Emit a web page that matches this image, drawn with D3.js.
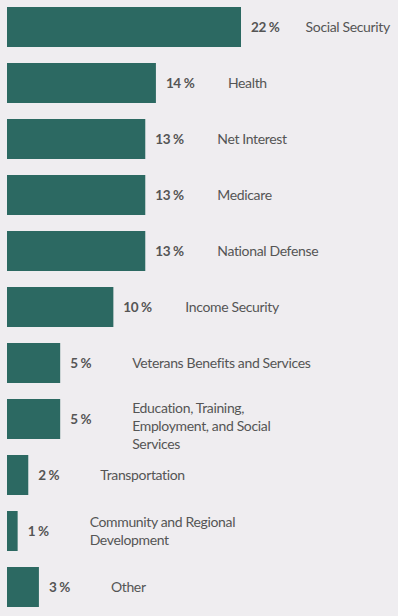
<!DOCTYPE html>
<html>
<head>
<meta charset="utf-8">
<script src="https://cdn.jsdelivr.net/npm/d3@7"></script>
<style>
  html, body { margin: 0; padding: 0; background: #efedf0; }
  svg { display: block; }
  .pct { font-family: Lato, "Noto Sans", sans-serif; font-weight: 700; font-size: 13.5px; letter-spacing: -0.4px; fill: #555; }
  .cat { font-family: Lato, "Noto Sans", sans-serif; font-size: 14px; letter-spacing: -0.35px; fill: #555; }
</style>
</head>
<body>
<div id="chart"></div>
<script>
// budget shares, percent of total outlays
let categories = [
    "Social Security",
    "Health",
    "Net Interest",
    "Medicare",
    "National Defense",
    "Income Security",
    "Veterans Benefits and Services",
    "Education, Training,\nEmployment, and Social\nServices",
    "Transportation",
    "Community and Regional\nDevelopment",
    "Other"
];
let shares = [22, 14, 13, 13, 13, 10, 5, 5, 2, 1, 3];

let width = 398, height = 616;
let left = 7, lineHeight = 18;

var svg = d3.select("#chart")
    .append("svg")
    .attr("width", width)
    .attr("height", height);

var x = d3.scaleLinear()
    .domain([0, 22])
    .range([left, 241]);

var y = d3.scaleBand()
    .domain(categories)
    .range([7, 607])
    .paddingInner(16 / 56)
    .paddingOuter(0);

var rows = svg.selectAll("g.row")
    .data(categories.map((c, i) => ({ name: c, value: shares[i] })))
    .enter()
    .append("g")
    .attr("class", "row");

rows.append("rect")
    .attr("x", x(0))
    .attr("y", d => y(d.name))
    .attr("width", d => x(d.value) - x(0))
    .attr("height", y.bandwidth())
    .style("fill", "#2c6962");

rows.append("text")
    .attr("class", "pct")
    .attr("x", d => x(d.value) + 10)
    .attr("y", d => y(d.name) + y.bandwidth() / 2)
    .attr("dy", "0.35em")
    .text(d => d.value + " %");

rows.each(function(d) {
    let lines = d.name.split("\n");
    let top = y(d.name);
    let first;
    if (lines.length * lineHeight > y.bandwidth()) {
        first = top + lineHeight / 2;
    } else {
        first = top + y.bandwidth() / 2 - (lines.length - 1) * lineHeight / 2;
    }
    let t = d3.select(this).append("text")
        .attr("class", "cat")
        .attr("x", x(d.value) + 72);
    lines.forEach((line, i) => {
        t.append("tspan")
            .attr("x", x(d.value) + 72)
            .attr("y", first + i * lineHeight)
            .attr("dy", "0.35em")
            .text(line);
    });
    // keep long labels inside the frame
    let w = t.node().getBBox().width;
    if (x(d.value) + 72 + w > width - 7) {
        t.selectAll("tspan").attr("x", width - 7 - w);
    }
});
</script>
</body>
</html>
